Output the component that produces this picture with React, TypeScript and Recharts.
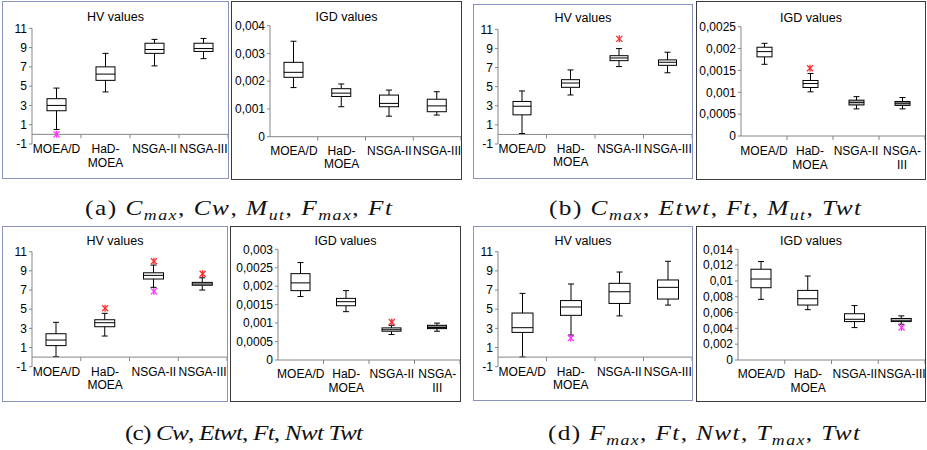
import React from 'react';
import { ComposedChart, Bar, Scatter, XAxis, YAxis, ReferenceLine } from 'recharts';

// ---------- categories / tick labels ----------
const catsStd = ['MOEA/D', 'HaD-|MOEA', 'NSGA-II', 'NSGA-III'];
const catsWrap = ['MOEA/D', 'HaD-|MOEA', 'NSGA-II', 'NSGA-|III'];

const hvTicks = [-1, 1, 3, 5, 7, 9, 11];
const igdTicksA = [0, 0.001, 0.002, 0.003, 0.004];
const igdTicksB = [0, 0.0005, 0.001, 0.0015, 0.002, 0.0025];
const igdTicksC = [0, 0.0005, 0.001, 0.0015, 0.002, 0.0025, 0.003];
const igdTicksD = [0, 0.002, 0.004, 0.006, 0.008, 0.01, 0.012, 0.014];

// ---------- (a) ----------
const aHvMin = [0.5, 4.4, 7.1, 7.85];
const aHvQ1 = [2.45, 5.6, 8.4, 8.6];
const aHvMed = [3.0, 6.25, 8.8, 8.9];
const aHvQ3 = [3.7, 7.0, 9.45, 9.45];
const aHvMax = [4.8, 8.4, 9.85, 9.95];
const aHvRed = [null, null, null, null];
const aHvMag = [0.0, null, null, null];

const aIgdMin = [0.00177, 0.00108, 0.00074, 0.00078];
const aIgdQ1 = [0.00214, 0.00145, 0.00108, 0.0009];
const aIgdMed = [0.00232, 0.00157, 0.0012, 0.00111];
const aIgdQ3 = [0.00268, 0.00173, 0.0015, 0.00135];
const aIgdMax = [0.00344, 0.0019, 0.00168, 0.00162];
const aIgdRed = [null, null, null, null];
const aIgdMag = [null, null, null, null];

// ---------- (b) ----------
const bHvMin = [0.1, 4.13, 7.1, 6.45];
const bHvQ1 = [2.05, 4.93, 7.72, 7.23];
const bHvMed = [2.95, 5.38, 8.0, 7.55];
const bHvQ3 = [3.45, 5.73, 8.24, 7.8];
const bHvMax = [4.55, 6.75, 8.98, 8.6];
const bHvRed = [null, null, 10.0, null];
const bHvMag = [null, null, null, null];

const bIgdMin = [0.00164, 0.00101, 0.00062, 0.00062];
const bIgdQ1 = [0.00181, 0.00111, 0.00071, 0.0007];
const bIgdMed = [0.00193, 0.0012, 0.00077, 0.00075];
const bIgdQ3 = [0.00203, 0.00127, 0.00082, 0.00079];
const bIgdMax = [0.00212, 0.00143, 0.0009, 0.00088];
const bIgdRed = [null, 0.00155, null, null];
const bIgdMag = [null, null, null, null];

// ---------- (c) ----------
const cHvMin = [0.05, 2.2, 7.28, 7.0];
const cHvQ1 = [1.2, 3.17, 8.15, 7.5];
const cHvMed = [1.78, 3.59, 8.53, 7.63];
const cHvQ3 = [2.44, 3.9, 8.8, 7.8];
const cHvMax = [3.63, 4.57, 9.6, 8.28];
const cHvRed = [null, 5.1, 10.0, 8.7];
const cHvMag = [null, null, 6.86, null];

const cIgdMin = [0.00172, 0.00131, 0.00069, 0.00078];
const cIgdQ1 = [0.00188, 0.00147, 0.00078, 0.00085];
const cIgdMed = [0.00209, 0.00158, 0.00082, 0.00088];
const cIgdQ3 = [0.00234, 0.00167, 0.00087, 0.00094];
const cIgdMax = [0.00264, 0.00188, 0.00094, 0.001];
const cIgdRed = [null, null, 0.00103, null];
const cIgdMag = [null, null, null, null];

// ---------- (d) ----------
const dHvMin = [0.02, 2.3, 4.3, 5.43];
const dHvQ1 = [2.58, 4.36, 5.6, 6.06];
const dHvMed = [3.07, 5.23, 6.82, 7.28];
const dHvQ3 = [4.6, 5.9, 7.7, 8.05];
const dHvMax = [6.65, 7.63, 8.88, 10.0];
const dHvRed = [null, null, null, null];
const dHvMag = [null, 1.98, null, null];

const dIgdMin = [0.00767, 0.00637, 0.0041, 0.00452];
const dIgdQ1 = [0.00914, 0.00695, 0.00486, 0.00486];
const dIgdMed = [0.01024, 0.00775, 0.00515, 0.00503];
const dIgdQ3 = [0.01148, 0.0088, 0.00585, 0.00525];
const dIgdMax = [0.01245, 0.01062, 0.00688, 0.00558];
const dIgdRed = [null, null, null, null];
const dIgdMag = [null, null, null, 0.0041];

// ---------- captions ----------
const capA = [['(a) ', 'r'], ['C', 'i'], ['max', 's'], [', ', 'r'], ['Cw', 'i'], [', ', 'r'], ['M', 'i'], ['ut', 's'], [', ', 'r'], ['F', 'i'], ['max', 's'], [', ', 'r'], ['Ft', 'i']];
const capB = [['(b) ', 'r'], ['C', 'i'], ['max', 's'], [', ', 'r'], ['Etwt', 'i'], [', ', 'r'], ['Ft', 'i'], [', ', 'r'], ['M', 'i'], ['ut', 's'], [', ', 'r'], ['Twt', 'i']];
const capC = [['(c) ', 'r'], ['Cw', 'i'], [', ', 'r'], ['Etwt', 'i'], [', ', 'r'], ['Ft', 'i'], [', ', 'r'], ['Nwt', 'i'], [' ', 'r'], ['Twt', 'i']];
const capD = [['(d) ', 'r'], ['F', 'i'], ['max', 's'], [', ', 'r'], ['Ft', 'i'], [', ', 'r'], ['Nwt', 'i'], [', ', 'r'], ['T', 'i'], ['max', 's'], [', ', 'r'], ['Twt', 'i']];

// ---------- helpers ----------
const SANS = "'Liberation Sans', Arial, sans-serif";
const SERIF = "'Liberation Serif', 'Times New Roman', serif";
const AXIS = '#868686';

function buildRows(names: string[], mn: number[], q1: number[], md: number[], q3: number[], mx: number[], red: (number | null)[], mag: (number | null)[]) {
  return names.map((name, i) => ({
    name,
    range: [mn[i], mx[i]],
    min: mn[i], q1: q1[i], med: md[i], q3: q3[i], max: mx[i],
    red: red[i], mag: mag[i],
  }));
}

const fmtComma = (v: number) => String(v).replace('.', ',');
const fmtPlain = (v: number) => String(v);

const makeBox = (fills: string[]) => (p: any) => {
  const { x, y, width, height, payload, index } = p;
  if (!payload) return <g />;
  const top = Math.min(y, y + height);
  const bot = Math.max(y, y + height);
  const lo = payload.min;
  const hi = payload.max;
  const py = (v: number) => bot - ((bot - top) * (v - lo)) / (hi - lo);
  const cx = x + width / 2;
  const cap = 3;
  const yq3 = py(payload.q3);
  const yq1 = py(payload.q1);
  const ym = py(payload.med);
  return (
    <g stroke="#000" strokeWidth={1}>
      <line x1={cx} x2={cx} y1={top} y2={yq3} />
      <line x1={cx} x2={cx} y1={yq1} y2={bot} />
      <line x1={cx - cap} x2={cx + cap} y1={top} y2={top} />
      <line x1={cx - cap} x2={cx + cap} y1={bot} y2={bot} />
      <rect x={x} y={yq3} width={width} height={Math.max(0.5, yq1 - yq3)} fill={fills[index] || '#fff'} />
      <line x1={x} x2={x + width} y1={ym} y2={ym} />
    </g>
  );
};

const makeStar = (key: string, color: string) => (p: any) => {
  const { cx, cy, payload } = p;
  if (!payload || payload[key] == null || !isFinite(cy) || !isFinite(cx)) return <g />;
  const s = 3;
  return (
    <g stroke={color} strokeWidth={1.3}>
      <line x1={cx - s} y1={cy - s} x2={cx + s} y2={cy + s} />
      <line x1={cx - s} y1={cy + s} x2={cx + s} y2={cy - s} />
      <line x1={cx} y1={cy - s - 0.5} x2={cx} y2={cy + s + 0.5} />
    </g>
  );
};

const AxisLineShape = (p: any) => {
  const { x1, x2, y1 } = p;
  const a = Math.min(x1, x2);
  const w = Math.abs(x2 - x1);
  return (
    <g stroke={AXIS} strokeWidth={1}>
      <line x1={a} x2={a + w} y1={y1} y2={y1} />
      {[1, 2, 3, 4].map((i) => (
        <line key={i} x1={a + (w * i) / 4} x2={a + (w * i) / 4} y1={y1} y2={y1 + 4} />
      ))}
    </g>
  );
};

const CatTick = (p: any) => {
  const { x, y, payload, d1, lh } = p;
  const lines = String(payload.value).split('|');
  return (
    <text x={x} y={y + d1} textAnchor="middle" fontSize={12} fontFamily={SANS} fill="#000">
      {lines.map((l: string, i: number) => (
        <tspan key={i} x={x} dy={i === 0 ? 0 : lh}>{l}</tspan>
      ))}
    </text>
  );
};

type Cfg = {
  frame: number[];
  plot: { l: number; r: number; t: number; b: number };
  rows: any[];
  ticks: number[];
  fmt: (v: number) => string;
  fills: string[];
  title: string;
  titleBase: number;
  lab1: number;
  lh: number;
  border: string;
  barSize: number;
};

const HVB = '#8893c0';
const IGB = '#3a3a3a';

const panels: Cfg[] = [
  {
    frame: [2, 1, 227, 178], plot: { l: 32, r: 228, t: 28.3, b: 144 },
    rows: buildRows(catsStd, aHvMin, aHvQ1, aHvMed, aHvQ3, aHvMax, aHvRed, aHvMag),
    ticks: hvTicks, fmt: fmtPlain, fills: ['#fff', '#fff', '#fff', '#fff'],
    title: 'HV values', titleBase: 21.5, lab1: 9, lh: 14, border: HVB, barSize: 19,
  },
  {
    frame: [231, 1, 231, 179], plot: { l: 270, r: 461, t: 25.7, b: 136.7 },
    rows: buildRows(catsStd, aIgdMin, aIgdQ1, aIgdMed, aIgdQ3, aIgdMax, aIgdRed, aIgdMag),
    ticks: igdTicksA, fmt: fmtComma, fills: ['#fff', '#fff', '#fff', '#fff'],
    title: 'IGD values', titleBase: 21.7, lab1: 18, lh: 13.5, border: IGB, barSize: 19,
  },
  {
    frame: [473, 4, 220, 175], plot: { l: 498, r: 692, t: 29.3, b: 144 },
    rows: buildRows(catsStd, bHvMin, bHvQ1, bHvMed, bHvQ3, bHvMax, bHvRed, bHvMag),
    ticks: hvTicks, fmt: fmtPlain, fills: ['#fff', '#fff', '#fff', '#fff'],
    title: 'HV values', titleBase: 22, lab1: 8.5, lh: 13.5, border: HVB, barSize: 18,
  },
  {
    frame: [696, 1, 230, 179], plot: { l: 741, r: 925, t: 26.7, b: 136 },
    rows: buildRows(catsWrap, bIgdMin, bIgdQ1, bIgdMed, bIgdQ3, bIgdMax, bIgdRed, bIgdMag),
    ticks: igdTicksB, fmt: fmtComma, fills: ['#fff', '#fff', '#bdbdbd', '#a8a8a8'],
    title: 'IGD values', titleBase: 22.5, lab1: 19, lh: 13.5, border: IGB, barSize: 15,
  },
  {
    frame: [2, 226, 226, 176], plot: { l: 32, r: 227, t: 251.7, b: 366.7 },
    rows: buildRows(catsStd, cHvMin, cHvQ1, cHvMed, cHvQ3, cHvMax, cHvRed, cHvMag),
    ticks: hvTicks, fmt: fmtPlain, fills: ['#fff', '#fff', '#fff', '#fff'],
    title: 'HV values', titleBase: 245.5, lab1: 9, lh: 13.5, border: HVB, barSize: 20,
  },
  {
    frame: [230, 226, 231, 176], plot: { l: 278, r: 460, t: 249.3, b: 360 },
    rows: buildRows(catsWrap, cIgdMin, cIgdQ1, cIgdMed, cIgdQ3, cIgdMax, cIgdRed, cIgdMag),
    ticks: igdTicksC, fmt: fmtComma, fills: ['#fff', '#fff', '#fff', '#8a8a8a'],
    title: 'IGD values', titleBase: 245.7, lab1: 18.3, lh: 13.5, border: IGB, barSize: 19,
  },
  {
    frame: [473, 226, 220, 175], plot: { l: 498, r: 692, t: 251.7, b: 366.7 },
    rows: buildRows(catsStd, dHvMin, dHvQ1, dHvMed, dHvQ3, dHvMax, dHvRed, dHvMag),
    ticks: hvTicks, fmt: fmtPlain, fills: ['#fff', '#fff', '#fff', '#fff'],
    title: 'HV values', titleBase: 245.7, lab1: 9, lh: 13.5, border: HVB, barSize: 21,
  },
  {
    frame: [696, 226, 230, 176], plot: { l: 738, r: 925, t: 249.3, b: 360 },
    rows: buildRows(catsStd, dIgdMin, dIgdQ1, dIgdMed, dIgdQ3, dIgdMax, dIgdRed, dIgdMag),
    ticks: igdTicksD, fmt: fmtComma, fills: ['#fff', '#fff', '#fff', '#fff'],
    title: 'IGD values', titleBase: 245.7, lab1: 18.3, lh: 13.5, border: IGB, barSize: 20,
  },
];

function BoxPanel({ cfg }: { cfg: Cfg }) {
  const [fx, fy, fw, fh] = cfg.frame;
  const { plot } = cfg;
  const yW = plot.l - fx;
  const mTop = plot.t - fy;
  const mRight = fx + fw - plot.r;
  const xH = fy + fh - plot.b;
  const ticks = cfg.ticks;
  const domain = [ticks[0], ticks[ticks.length - 1]];
  return (
    <div style={{ position: 'absolute', left: fx, top: fy, width: fw, height: fh, overflow: 'hidden', background: '#fff' }}>
      <ComposedChart width={fw} height={fh} data={cfg.rows} margin={{ top: mTop, right: mRight, bottom: 0, left: 0 }}>
        <XAxis
          dataKey="name"
          type="category"
          height={xH}
          axisLine={false}
          tickLine={false}
          tickSize={0}
          tickMargin={0}
          interval={0}
          tick={(p: any) => <CatTick {...p} d1={cfg.lab1} lh={cfg.lh} />}
        />
        <YAxis
          type="number"
          domain={domain}
          ticks={ticks}
          interval={0}
          width={yW}
          tickSize={3}
          tickMargin={2}
          tickFormatter={cfg.fmt}
          axisLine={{ stroke: AXIS }}
          tickLine={{ stroke: AXIS }}
          tick={{ fill: '#000', fontSize: 12, fontFamily: SANS }}
          allowDataOverflow
        />
        <ReferenceLine y={0} shape={AxisLineShape} />
        <Bar dataKey="range" barSize={cfg.barSize} shape={makeBox(cfg.fills)} isAnimationActive={false} />
        <Scatter dataKey="red" shape={makeStar('red', '#ff2a2a')} isAnimationActive={false} />
        <Scatter dataKey="mag" shape={makeStar('mag', '#ff33ff')} isAnimationActive={false} />
      </ComposedChart>
      <div
        style={{
          position: 'absolute', left: 0, width: fw, top: cfg.titleBase - fy - 11.3,
          textAlign: 'center', fontFamily: SANS, fontSize: 12.5, lineHeight: '14px', color: '#000',
        }}
      >
        {cfg.title}
      </div>
      <div
        style={{
          position: 'absolute', left: 0, top: 0, width: fw, height: fh, boxSizing: 'border-box',
          border: `1px solid ${cfg.border}`, pointerEvents: 'none',
        }}
      />
    </div>
  );
}

const STRETCH = 1.15;

function Caption({ segs, x, y, len }: { segs: string[][]; x: number; y: number; len: number }) {
  let prevSub = false;
  return (
    <g transform={`translate(${x},${y}) scale(${STRETCH},1)`}>
      <text x={0} y={0} fontFamily={SERIF} fontSize={22} fill="#111" textLength={len / STRETCH} lengthAdjust="spacing">
        {segs.map(([t, k], i) => {
          const isSub = k === 's';
          const dy = isSub && !prevSub ? 5 : !isSub && prevSub ? -5 : 0;
          prevSub = isSub;
          return (
            <tspan key={i} dy={dy} fontStyle={k === 'r' ? 'normal' : 'italic'} fontSize={isSub ? 15.5 : 22}>
              {t}
            </tspan>
          );
        })}
      </text>
    </g>
  );
}

export default function App() {
  return (
    <div style={{ position: 'absolute', left: 0, top: 0, width: 927, height: 450, background: '#fff', overflow: 'hidden' }}>
      <svg width={927} height={450} style={{ position: 'absolute', left: 0, top: 0 }}>
        <Caption segs={capA} x={85} y={215} len={307} />
        <Caption segs={capB} x={549} y={215} len={312} />
        <Caption segs={capC} x={125} y={440} len={238} />
        <Caption segs={capD} x={548} y={440} len={312} />
      </svg>
      {panels.map((cfg, i) => (
        <BoxPanel key={i} cfg={cfg} />
      ))}
    </div>
  );
}
